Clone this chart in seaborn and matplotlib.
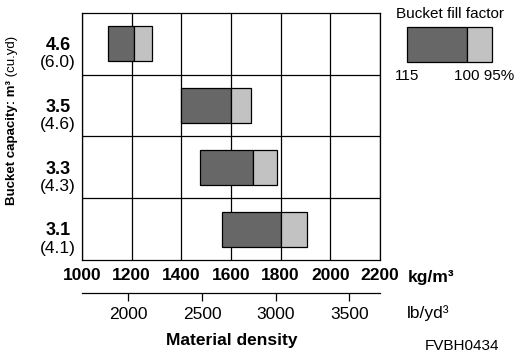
import matplotlib
matplotlib.use("Agg")
import matplotlib.pyplot as plt
import matplotlib.transforms as mtransforms
from matplotlib.patches import Rectangle
import seaborn as sns
import pandas as pd
import numpy as np

# ---- data ----
capacity_m3 = ["4.6", "3.5", "3.3", "3.1"]
capacity_yd3 = ["(6.0)", "(4.6)", "(4.3)", "(4.1)"]
density_fill115 = [1105, 1400, 1475, 1565]   # kg/m3 at 115 % fill factor
density_fill100 = [1210, 1600, 1690, 1800]   # kg/m3 at 100 % fill factor
density_fill95 = [1280, 1680, 1785, 1905]    # kg/m3 at 95 % fill factor
kg_ticks = [1000, 1200, 1400, 1600, 1800, 2000, 2200]
lb_ticks = [2000, 2500, 3000, 3500]
legend_labels = ["115", "100 95%"]
KG_TO_LB = 1.6856

DARK = "#676767"
LIGHT = "#c2c2c2"

sns.set_style("white")
plt.rcParams["font.family"] = ["Liberation Sans", "DejaVu Sans"]
plt.rcParams["axes.edgecolor"] = "black"
plt.rcParams["text.color"] = "black"
plt.rcParams["xtick.color"] = "black"
plt.rcParams["ytick.color"] = "black"
plt.rcParams["axes.linewidth"] = 0.9

df = pd.DataFrame({
    "capacity": capacity_m3,
    "d115": density_fill115,
    "d100": density_fill100,
    "d95": density_fill95,
})
df["dark_w"] = df["d100"] - df["d115"]
df["light_w"] = df["d95"] - df["d100"]

fig = plt.figure(figsize=(5.14, 3.56), dpi=100)
ax = fig.add_axes([0.1595, 0.2697, 0.5798, 0.6938])

common = dict(y="capacity", order=capacity_m3, orient="h", saturation=1,
              edgecolor="black", linewidth=0.9, width=0.57, errorbar=None, ax=ax)
sns.barplot(data=df, x="dark_w", left=df["d115"].values, color=DARK, **common)
sns.barplot(data=df, x="light_w", left=df["d100"].values, color=LIGHT, **common)

ax.set_xlim(kg_ticks[0], kg_ticks[-1])
ax.set_ylim(len(capacity_m3) - 0.5, -0.5)
ax.set_xticks(kg_ticks)
ax.set_xticklabels([str(t) for t in kg_ticks], fontweight="bold", fontsize=12.5)
ax.set_yticks([])
ax.set_yticks(np.arange(len(capacity_m3) - 1) + 0.5, minor=True)
ax.set_xlabel("")
ax.set_ylabel("")
ax.grid(axis="x", which="major", color="black", linewidth=0.9)
ax.grid(axis="y", which="minor", color="black", linewidth=0.9)
ax.set_axisbelow(True)
ax.tick_params(axis="both", which="both", length=0)
ax.tick_params(axis="x", pad=5.5)
for s in ax.spines.values():
    s.set_visible(True)
    s.set_linewidth(0.9)

# category labels (bold m3 over normal cu.yd)
trans = mtransforms.blended_transform_factory(ax.transAxes, ax.transData)
for i, (a, b) in enumerate(zip(capacity_m3, capacity_yd3)):
    ax.text(-0.0805, i + 0.10, a, transform=trans, ha="center", va="baseline",
            fontweight="bold", fontsize=13)
    ax.text(-0.0805, i + 0.38, b, transform=trans, ha="center", va="baseline",
            fontsize=12.5)

# y-axis title: bold part + normal part
t1 = fig.text(12.5 / 514, 1 - 205 / 356, "Bucket capacity: m³", rotation=90,
              ha="center", va="bottom", fontweight="bold", fontsize=9.5)
fig.text(0, 0, "", alpha=0)
ax.annotate(" (cu.yd)", xy=(0.5, 1.0), xycoords=t1, rotation=90,
            ha="center", va="bottom", fontsize=9.5, annotation_clip=False)

# secondary (lb/yd3) axis
sec = ax.secondary_xaxis(-0.135, functions=(lambda x: x * KG_TO_LB,
                                            lambda x: x / KG_TO_LB))
sec.set_xticks(lb_ticks)
sec.set_xticklabels([str(t) for t in lb_ticks])
sec.tick_params(axis="x", bottom=True, direction="out", length=6, width=0.9,
                labelsize=12.5, pad=3.8, colors="black")
sec.spines["bottom"].set_linewidth(0.9)
sec.spines["bottom"].set_color("black")

# unit labels and titles
fig.text(408 / 514, 1 - 281.7 / 356, "kg/m³", fontweight="bold", fontsize=12.5,
         ha="left", va="baseline")
fig.text(407 / 514, 1 - 318 / 356, "lb/yd³", fontsize=12.5, ha="left", va="baseline")
fig.text(232 / 514, 1 - 345 / 356, "Material density", fontweight="bold",
         fontsize=12.5, ha="center", va="baseline")
fig.text(462 / 514, 1 - 350 / 356, "FVBH0434", fontsize=11, ha="center", va="baseline")

# legend
fig.text(450.5 / 514, 1 - 18 / 356, "Bucket fill factor", fontsize=11,
         ha="center", va="baseline")
lax = fig.add_axes([407.3 / 514, 1 - 62 / 356, 85 / 514, 35.3 / 356])
lax.set_axis_off()
split = 60 / 85
lax.add_patch(Rectangle((0, 0), split, 1, facecolor=DARK, edgecolor="black",
                        linewidth=0.9, transform=lax.transAxes, clip_on=False))
lax.add_patch(Rectangle((split, 0), 1 - split, 1, facecolor=LIGHT, edgecolor="black",
                        linewidth=0.9, transform=lax.transAxes, clip_on=False))
fig.text(406.7 / 514, 1 - 80 / 356, legend_labels[0], fontsize=11, ha="center",
         va="baseline")
fig.text(454 / 514, 1 - 80 / 356, legend_labels[1], fontsize=11, ha="left",
         va="baseline")

fig.savefig("out.png", dpi=100)
